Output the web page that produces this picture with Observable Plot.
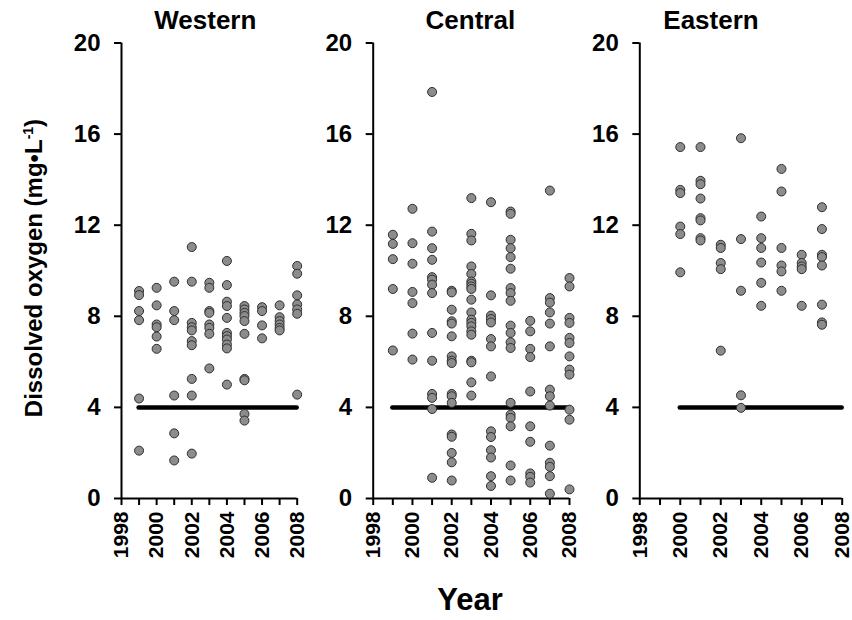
<!DOCTYPE html>
<html>
<head>
<meta charset="utf-8">
<script src="https://cdn.jsdelivr.net/npm/d3@7"></script>
<script src="https://cdn.jsdelivr.net/npm/@observablehq/plot@0.6"></script>
<style>
  body { margin: 0; background: #fff; }
  #wrap { position: relative; width: 852px; height: 620px; font-family: "Liberation Sans", Arial, sans-serif; }
  #wrap svg { position: absolute; top: 0; }
  .ylab { position: absolute; left: 34px; top: 268px; transform: translate(-50%, -50%) rotate(-90deg); white-space: nowrap; font-weight: bold; font-size: 24px; color: #000; }
  .ylab sup { font-size: 14px; }
  .xlab { position: absolute; left: 470px; top: 600px; transform: translate(-50%, -50%); font-weight: bold; font-size: 31px; color: #000; }
</style>
</head>
<body>
<div id="wrap"></div>
<script>
// ---- data (dissolved oxygen, mg/L) ----
const regions = ["Western", "Central", "Eastern"];

const westernYears = [1999, 2000, 2001, 2002, 2003, 2004, 2005, 2006, 2007, 2008];
const westernDO = [
  [9.11, 8.93, 8.23, 7.83, 4.39, 2.10],
  [9.25, 8.48, 7.64, 7.52, 7.11, 6.57],
  [9.52, 8.23, 7.83, 4.52, 2.86, 1.67],
  [11.04, 9.52, 7.71, 7.52, 7.38, 6.91, 6.73, 5.25, 4.52, 1.97],
  [9.47, 9.25, 8.23, 8.15, 7.64, 7.49, 7.23, 5.71],
  [10.43, 9.37, 8.64, 8.45, 7.93, 7.27, 7.13, 6.98, 6.76, 6.59, 5.00],
  [8.45, 8.30, 8.15, 8.01, 7.79, 7.23, 5.25, 5.19, 3.71, 3.42],
  [8.40, 8.23, 7.60, 7.03],
  [8.48, 7.96, 7.79, 7.64, 7.49, 7.38],
  [10.21, 9.87, 8.92, 8.52, 8.30, 8.11, 4.56]
];

const centralYears = [1999, 2000, 2001, 2002, 2003, 2004, 2005, 2006, 2007, 2008];
const centralDO = [
  [11.58, 11.18, 10.51, 9.20, 6.50],
  [12.72, 11.21, 10.31, 9.07, 8.58, 7.24, 6.10],
  [17.85, 11.72, 10.99, 10.48, 9.72, 9.61, 9.39, 9.02, 7.27, 6.05, 4.59, 4.42, 3.93, 0.91],
  [9.12, 9.05, 8.29, 7.78, 7.68, 7.12, 6.24, 6.05, 5.95, 4.59, 4.49, 4.20, 2.81, 2.71, 2.00, 1.59, 0.79],
  [13.19, 11.62, 11.33, 10.19, 9.86, 9.53, 9.43, 9.31, 9.20, 8.73, 8.17, 7.85, 7.71, 7.56, 7.34, 7.19, 6.05, 5.98, 5.10, 4.52],
  [13.01, 8.92, 8.03, 7.88, 7.73, 7.00, 6.68, 5.36, 2.95, 2.70, 2.12, 1.80, 0.98, 0.55],
  [12.60, 12.50, 11.36, 10.99, 10.60, 10.09, 9.24, 9.02, 8.68, 7.59, 7.27, 6.86, 6.61, 4.20, 3.68, 3.54, 3.17, 1.45, 0.79],
  [7.80, 7.34, 6.57, 6.21, 4.70, 3.17, 2.49, 1.10, 0.95, 0.70],
  [13.52, 8.80, 8.60, 8.17, 7.68, 6.68, 4.78, 4.49, 4.08, 2.32, 1.57, 1.39, 0.98, 0.21],
  [9.68, 9.31, 7.93, 7.71, 7.05, 6.83, 6.24, 5.66, 5.44, 3.90, 3.46, 0.40]
];

const easternYears = [2000, 2001, 2002, 2003, 2004, 2005, 2006, 2007];
const easternDO = [
  [15.43, 13.55, 13.41, 11.94, 11.61, 9.93],
  [15.43, 13.95, 13.80, 13.17, 12.31, 12.21, 11.43, 11.33],
  [11.14, 11.00, 10.34, 10.07, 6.49],
  [15.82, 11.39, 9.12, 4.53, 3.98],
  [12.38, 11.43, 11.00, 10.36, 9.47, 8.46],
  [14.47, 13.48, 11.00, 10.23, 9.97, 9.12],
  [10.70, 10.34, 10.19, 10.07, 8.46],
  [12.79, 11.83, 10.70, 10.60, 10.23, 8.51, 7.73, 7.63]
];

// criterion line (mg/L) and the years it spans per region
const criterionDO = 4;
const criterionStart = [1999, 1999, 2000];
const criterionEnd = 2008;

const yTicks = [0, 4, 8, 12, 16, 20];
const xTicks = [1998, 1999, 2000, 2001, 2002, 2003, 2004, 2005, 2006, 2007, 2008];
const xDomain = [1998, 2008];
const yDomain = [0, 20];

// ---- layout ----
const panels = [
  { years: westernYears, values: westernDO, left: 0,   marginLeft: 121,   plotW: 175.7, titleDx: -4 },
  { years: centralYears, values: centralDO, left: 300, marginLeft: 72.7,  plotW: 196.3, titleDx: -1 },
  { years: easternYears, values: easternDO, left: 580, marginLeft: 59.3,  plotW: 202.4, titleDx: -30 }
];

const wrap = document.getElementById("wrap");

panels.forEach((p, i) => {
  const rows = [];
  p.years.forEach((yr, j) => p.values[j].forEach(v => rows.push({ year: yr, value: v })));
  const marginRight = 8;
  const chart = Plot.plot({
    width: p.marginLeft + p.plotW + marginRight,
    height: 620,
    marginTop: 42.5,
    marginBottom: 122,
    marginLeft: p.marginLeft,
    marginRight,
    style: { background: "transparent", overflow: "visible", fontFamily: "'Liberation Sans', Arial, sans-serif", color: "#000" },
    x: { domain: xDomain },
    y: { domain: yDomain },
    marks: [
      Plot.axisY(yTicks, { tickSize: 7, tickPadding: 14, fontSize: 24, fontWeight: "bold", strokeWidth: 2, label: null }),
      Plot.axisX(xTicks, {
        tickSize: 7, tickPadding: 6, tickRotate: -90, fontSize: 21, fontWeight: "bold", strokeWidth: 2, label: null,
        tickFormat: d => (d % 2 === 0 ? String(d) : "")
      }),
      Plot.ruleX([xDomain[0]], { stroke: "#000", strokeWidth: 2 }),
      Plot.ruleY([yDomain[0]], { stroke: "#000", strokeWidth: 2 }),
      Plot.ruleY([criterionDO], { x1: criterionStart[i], x2: criterionEnd, stroke: "#000", strokeWidth: 4.5, strokeLinecap: "round" }),
      Plot.dot(rows, { x: "year", y: "value", r: 4.5, fill: "#8c8c8c", stroke: "#2e2e2e", strokeWidth: 1 }),
      Plot.text([regions[i]], { frameAnchor: "top", lineAnchor: "middle", dy: -22, dx: p.titleDx, fontSize: 26, fontWeight: "bold", fill: "#000" })
    ]
  });
  chart.style.left = p.left + "px";
  wrap.appendChild(chart);
});

const yl = document.createElement("div");
yl.className = "ylab";
yl.innerHTML = "Dissolved oxygen (mg•L<sup>-1</sup>)";
wrap.appendChild(yl);

const xl = document.createElement("div");
xl.className = "xlab";
xl.textContent = "Year";
wrap.appendChild(xl);
</script>
</body>
</html>
